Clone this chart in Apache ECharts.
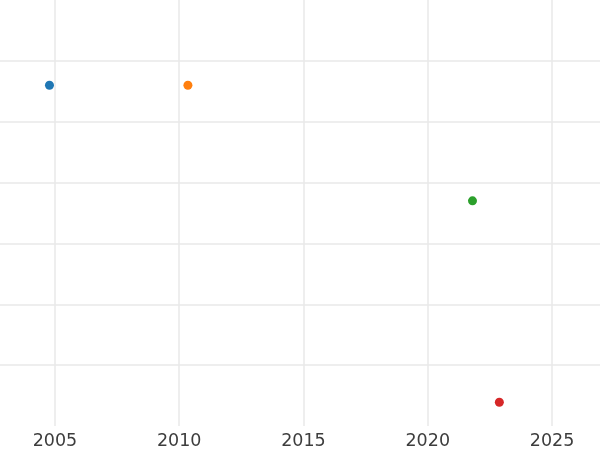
<!DOCTYPE html>
<html>
<head>
<meta charset="utf-8">
<script src="https://cdn.jsdelivr.net/npm/echarts@6/dist/echarts.min.js"></script>
<style>
  html, body { margin: 0; padding: 0; background: #fff; }
  #chart { width: 600px; height: 450px; }
</style>
</head>
<body>
<div id="chart"></div>
<script>
// data
var years = [2004.78, 2010.35, 2021.8, 2022.88];
var values = [5.6, 5.6, 3.7, 0.39];
var pointColors = ['#1f77b4', '#ff7f0e', '#2ca02c', '#d62728'];
var yearTicks = [2005, 2010, 2015, 2020, 2025];

var chart = echarts.init(document.getElementById('chart'));

var points = years.map(function (y, i) {
    return { value: [y, values[i]], itemStyle: { color: pointColors[i], opacity: 1 } };
});

// horizontal grid: hide the bottom and top lines
var hColors = ['rgba(0,0,0,0)'];
for (var k = 0; k < 6; k++) hColors.push('#e8e8e8');
hColors.push('rgba(0,0,0,0)');

chart.setOption({
    animation: false,
    grid: { left: 0, right: 0, top: 0, bottom: 23 },
    xAxis: {
        type: 'value',
        min: 2002.79, max: 2026.93,
        axisLine: { show: false },
        axisTick: { show: false, customValues: yearTicks },
        axisLabel: {
            customValues: yearTicks,
            formatter: function (v) { return String(v); },
            margin: 6,
            color: '#3d3d3d',
            fontSize: 17.5,
            fontFamily: 'DejaVu Sans'
        },
        splitLine: { show: true, lineStyle: { color: '#e8e8e8', width: 1.5 } }
    },
    yAxis: {
        type: 'value',
        min: 0, max: 7, interval: 1,
        axisLine: { show: false },
        axisTick: { show: false },
        axisLabel: { show: false },
        splitLine: { show: true, lineStyle: { color: hColors, width: 1.5 } }
    },
    series: [{
        type: 'scatter',
        symbolSize: 9,
        data: points
    }]
});
</script>
</body>
</html>
